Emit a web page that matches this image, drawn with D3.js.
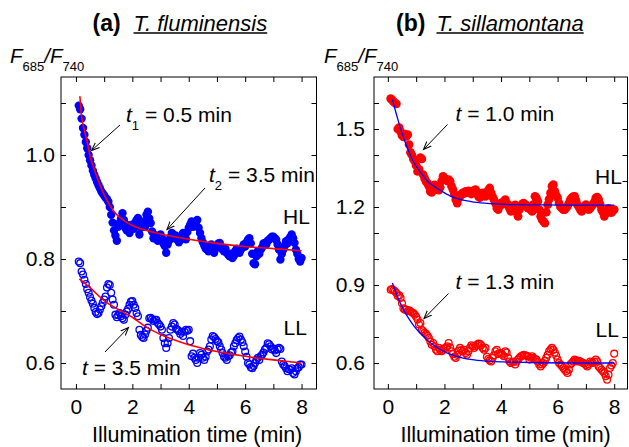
<!DOCTYPE html>
<html>
<head>
<meta charset="utf-8">
<script src="https://cdn.jsdelivr.net/npm/d3@7"></script>
<style>
body { margin: 0; background: #fff; }
text { font-family: "Liberation Sans", Arial, Helvetica, sans-serif; white-space: pre; }
</style>
</head>
<body>
<div id="chart"></div>
<script>
// sampling times (min), shared by all four series
const times = [
  0.10,0.15,0.20,0.25,0.30,0.35,0.40,0.45,0.50,0.55,0.60,0.65,0.70,0.75,0.80,0.85,0.90,0.95,
  1.00,1.05,1.10,1.15,1.20,1.25,1.30,1.35,1.40,1.45,1.50,1.55,1.60,1.65,1.70,1.75,1.80,1.85,1.90,1.95,
  2.00,2.05,2.10,2.15,2.20,2.25,2.30,2.35,2.40,2.45,2.50,2.55,2.60,2.65,2.70,2.75,2.80,2.85,2.90,2.95,
  3.00,3.05,3.10,3.15,3.20,3.25,3.30,3.35,3.40,3.45,3.50,3.55,3.60,3.65,3.70,3.75,3.80,3.85,3.90,3.95,
  4.00,4.05,4.10,4.15,4.20,4.25,4.30,4.35,4.40,4.45,4.50,4.55,4.60,4.65,4.70,4.75,4.80,4.85,4.90,4.95,
  5.00,5.05,5.10,5.15,5.20,5.25,5.30,5.35,5.40,5.45,5.50,5.55,5.60,5.65,5.70,5.75,5.80,5.85,5.90,5.95,
  6.00,6.05,6.10,6.15,6.20,6.25,6.30,6.35,6.40,6.45,6.50,6.55,6.60,6.65,6.70,6.75,6.80,6.85,6.90,6.95,
  7.00,7.05,7.10,7.15,7.20,7.25,7.30,7.35,7.40,7.45,7.50,7.55,7.60,7.65,7.70,7.75,7.80,7.85,7.90,7.95,
  8.00
]

// (a) T. fluminensis, high light
const hlA = [
  1.095,1.088,1.07,1.052,1.039,1.025,1.013,1.0,0.99,0.98,0.97,0.962,0.955,0.948,0.942,0.936,0.93,0.926,
  0.922,0.918,0.915,0.91,0.90,0.885,0.87,0.855,0.845,0.835,0.862,0.87,0.878,0.888,0.875,0.86,0.855,0.865,0.85,0.862,
  0.866,0.858,0.87,0.875,0.879,0.847,0.86,0.868,0.872,0.862,0.885,0.891,0.878,0.869,0.853,0.84,0.846,0.84,0.835,0.843,
  0.847,0.84,0.83,0.825,0.812,0.828,0.835,0.842,0.85,0.847,0.84,0.845,0.837,0.832,0.837,0.842,0.85,0.845,0.838,0.852,
  0.86,0.866,0.872,0.862,0.867,0.87,0.875,0.86,0.85,0.84,0.832,0.826,0.82,0.818,0.815,0.822,0.828,0.818,0.812,0.82,
  0.825,0.83,0.831,0.822,0.818,0.815,0.82,0.812,0.808,0.805,0.81,0.802,0.806,0.815,0.82,0.816,0.812,0.818,0.822,0.828,
  0.824,0.832,0.837,0.84,0.83,0.81,0.792,0.79,0.805,0.815,0.81,0.818,0.822,0.83,0.831,0.828,0.835,0.837,0.84,0.843,
  0.843,0.84,0.837,0.828,0.818,0.799,0.81,0.818,0.825,0.834,0.83,0.838,0.842,0.847,0.84,0.831,0.818,0.81,0.8,0.795,
  0.802
]
// (a) low light
const llA = [
  0.795,0.792,0.776,0.77,0.76,0.752,0.742,0.735,0.727,0.72,0.714,0.706,0.698,0.694,0.696,0.703,0.709,0.716,
  0.722,0.728,0.745,0.752,0.75,0.735,0.722,0.712,0.693,0.688,0.692,0.696,0.69,0.686,0.683,0.693,0.699,0.704,0.712,0.718,
  0.719,0.712,0.706,0.696,0.69,0.664,0.654,0.65,0.648,0.655,0.662,0.668,0.686,0.687,0.684,0.681,0.683,0.683,0.677,0.674,
  0.67,0.664,0.648,0.638,0.629,0.638,0.648,0.664,0.67,0.677,0.674,0.666,0.664,0.661,0.656,0.66,0.652,0.66,0.664,0.662,
  0.664,0.642,0.613,0.618,0.61,0.606,0.6,0.61,0.619,0.616,0.61,0.606,0.612,0.622,0.626,0.632,0.645,0.652,0.65,0.646,
  0.642,0.64,0.632,0.626,0.619,0.612,0.61,0.606,0.613,0.615,0.62,0.622,0.632,0.638,0.644,0.648,0.651,0.645,0.64,0.632,
  0.622,0.612,0.6,0.597,0.592,0.59,0.594,0.6,0.606,0.61,0.606,0.613,0.616,0.62,0.626,0.629,0.638,0.636,0.632,0.626,
  0.628,0.624,0.619,0.626,0.629,0.627,0.603,0.597,0.594,0.59,0.584,0.588,0.587,0.59,0.581,0.578,0.584,0.59,0.592,0.597,
  0.597
]
// (b) T. sillamontana, high light
const hlB = [
  1.617,1.612,1.605,1.6,1.597,1.5,1.505,1.49,1.475,1.47,1.48,1.472,1.478,1.44,1.41,1.40,1.385,1.376,
  1.36,1.337,1.345,1.39,1.385,1.324,1.31,1.298,1.292,1.28,1.26,1.256,1.275,1.285,1.28,1.27,1.265,1.275,1.3,1.318,
  1.31,1.305,1.3,1.305,1.299,1.28,1.267,1.25,1.228,1.215,1.234,1.24,1.25,1.254,1.252,1.26,1.256,1.262,1.254,1.25,
  1.26,1.264,1.267,1.255,1.241,1.236,1.245,1.254,1.248,1.241,1.255,1.265,1.273,1.254,1.24,1.228,1.215,1.196,1.19,1.205,
  1.215,1.21,1.222,1.228,1.215,1.209,1.195,1.183,1.19,1.203,1.208,1.18,1.164,1.19,1.203,1.212,1.215,1.21,1.205,1.196,
  1.2,1.19,1.183,1.21,1.241,1.235,1.222,1.19,1.164,1.151,1.145,1.138,1.18,1.209,1.23,1.254,1.28,1.286,1.26,1.245,
  1.235,1.215,1.2,1.196,1.19,1.19,1.197,1.203,1.215,1.228,1.235,1.24,1.241,1.225,1.209,1.2,1.19,1.183,1.19,1.2,
  1.209,1.2,1.19,1.195,1.203,1.21,1.22,1.235,1.238,1.228,1.21,1.19,1.18,1.164,1.175,1.19,1.195,1.183,1.178,1.185,
  1.19
]
// (b) low light
const llB = [
  0.882,0.884,0.88,0.876,0.869,0.858,0.86,0.85,0.83,0.81,0.805,0.806,0.8,0.803,0.799,0.794,0.792,0.786,
  0.778,0.767,0.748,0.754,0.728,0.722,0.716,0.712,0.705,0.696,0.683,0.67,0.677,0.664,0.651,0.645,0.658,0.651,0.645,0.65,
  0.656,0.66,0.664,0.677,0.66,0.645,0.635,0.624,0.619,0.632,0.648,0.658,0.65,0.645,0.651,0.638,0.632,0.645,0.658,0.668,
  0.664,0.658,0.664,0.67,0.675,0.674,0.668,0.658,0.651,0.658,0.624,0.615,0.61,0.606,0.619,0.63,0.645,0.651,0.635,0.638,
  0.636,0.632,0.626,0.645,0.64,0.62,0.606,0.6,0.604,0.606,0.594,0.605,0.613,0.62,0.626,0.628,0.632,0.63,0.628,0.626,
  0.613,0.62,0.626,0.619,0.616,0.613,0.605,0.594,0.587,0.594,0.6,0.608,0.62,0.632,0.645,0.652,0.658,0.651,0.64,0.628,
  0.613,0.6,0.594,0.588,0.581,0.574,0.568,0.562,0.574,0.594,0.6,0.606,0.613,0.61,0.606,0.608,0.606,0.603,0.6,0.598,
  0.592,0.587,0.594,0.606,0.602,0.6,0.606,0.613,0.606,0.587,0.581,0.574,0.568,0.562,0.549,0.536,0.555,0.581,0.59,0.6,
  0.636
]

// fitted curves
const fitHLA_t = [0.14, 0.2, 0.3, 0.4, 0.5, 0.7, 0.9, 1.15, 1.4, 1.75, 2.2, 3, 4, 5, 6, 7, 8]
const fitHLA_v = [1.113, 1.075, 1.047, 1.025, 0.998, 0.965, 0.936, 0.908, 0.888, 0.872, 0.86, 0.848, 0.838, 0.83, 0.824, 0.82, 0.816]
const fitLLA_t = [0.12, 0.5, 1, 1.5, 2, 2.5, 3, 3.5, 4, 4.5, 5, 5.5, 6, 6.5, 7, 7.5, 8]
const fitLLA_v = [0.762, 0.745, 0.72, 0.703, 0.688, 0.669, 0.655, 0.644, 0.635, 0.628, 0.622, 0.617, 0.613, 0.609, 0.606, 0.603, 0.6]
const fitHLB_t = [0.16, 0.34, 0.52, 0.69, 0.93, 1.17, 1.4, 1.64, 1.87, 2.23, 2.58, 3.05, 3.64, 4.46, 5.4, 8.0]
const fitHLB_v = [1.613, 1.542, 1.478, 1.427, 1.369, 1.331, 1.299, 1.279, 1.263, 1.241, 1.228, 1.219, 1.213, 1.209, 1.208, 1.207]
const fitLLB_t = [0.16, 0.34, 0.52, 0.69, 0.93, 1.17, 1.4, 1.64, 1.87, 2.23, 2.58, 3.05, 3.64, 4.46, 5.41, 6.58, 8.0]
const fitLLB_v = [0.908, 0.856, 0.812, 0.779, 0.741, 0.712, 0.687, 0.667, 0.651, 0.632, 0.621, 0.612, 0.606, 0.603, 0.601, 0.6, 0.6]

// ticks
const xTicks = [0, 1, 2, 3, 4, 5, 6, 7, 8]
const xTickLabels = [0, 2, 4, 6, 8]
const yTicksA = [0.6, 0.7, 0.8, 0.9, 1.0, 1.1]
const yTickLabelsA = [0.6, 0.8, 1.0]
const yTicksB = [0.6, 0.7, 0.8, 0.9, 1.0, 1.1, 1.2, 1.3, 1.4, 1.5, 1.6]
const yTickLabelsB = [0.6, 0.9, 1.2, 1.5]

const FONT = '"Liberation Sans", Arial, Helvetica, sans-serif'
const TOP = 77, BOTTOM = 389

var svg = d3.select("#chart")
	.append("svg")
	.attr("width", 629)
	.attr("height", 447)

svg.append("defs")
	.append("marker")
	.attr("id", "arrowhead")
	.attr("markerUnits", "userSpaceOnUse")
	.attr("markerWidth", 10)
	.attr("markerHeight", 8)
	.attr("refX", 8)
	.attr("refY", 4)
	.attr("orient", "auto")
	.append("path")
	.attr("d", "M0,0.8 L8,4 L0,7.2")
	.attr("fill", "none")
	.attr("stroke", "black")
	.attr("stroke-width", 1)

function drawPanel(p) {
	const xScale = d3.scaleLinear().domain(p.xDomain).range([p.left, p.right])
	const yScale = d3.scaleLinear().domain(p.yDomain).range([BOTTOM, TOP])
	const g = svg.append("g")

	const fmt = d3.format(".1f")

	// bottom axis with labels, ticks inward
	g.append("g")
		.attr("transform", `translate(0,${BOTTOM})`)
		.call(d3.axisBottom(xScale).tickValues(xTicks).tickSizeInner(-5).tickSizeOuter(0).tickPadding(10)
			.tickFormat(d => xTickLabels.includes(d) ? d : ""))
		.call(a => a.select(".domain").remove())
	// top mirror
	g.append("g")
		.attr("transform", `translate(0,${TOP})`)
		.call(d3.axisTop(xScale).tickValues(xTicks).tickSizeInner(-5).tickSizeOuter(0).tickFormat(""))
		.call(a => a.select(".domain").remove())
	// left axis
	g.append("g")
		.attr("transform", `translate(${p.left},0)`)
		.call(d3.axisLeft(yScale).tickValues(p.yTicks).tickSizeInner(-5).tickSizeOuter(0).tickPadding(p.pad)
			.tickFormat(d => p.yLabels.includes(d) ? fmt(d) : ""))
		.call(a => a.select(".domain").remove())
	// right mirror
	g.append("g")
		.attr("transform", `translate(${p.right},0)`)
		.call(d3.axisRight(yScale).tickValues(p.yTicks).tickSizeInner(-5).tickSizeOuter(0).tickFormat(""))
		.call(a => a.select(".domain").remove())

	g.selectAll(".tick text")
		.attr("font-family", FONT)
		.attr("font-size", 21)
		.attr("fill", "black")
	g.selectAll(".tick line")
		.attr("stroke", "black")
		.attr("stroke-width", 1)

	// frame
	g.append("rect")
		.attr("x", p.left)
		.attr("y", TOP)
		.attr("width", p.right - p.left)
		.attr("height", BOTTOM - TOP)
		.attr("fill", "none")
		.attr("stroke", "black")
		.attr("stroke-width", 1)

	// scatter: HL filled, LL open
	g.append("g")
		.selectAll("circle")
		.data(times.map((t, i) => ({t: t, v: p.hl[i]})))
		.enter()
		.append("circle")
		.attr("cx", d => xScale(d.t))
		.attr("cy", d => yScale(d.v))
		.attr("r", p.dotR)
		.attr("fill", p.dotColor)

	g.append("g")
		.selectAll("circle")
		.data(times.map((t, i) => ({t: t, v: p.ll[i]})))
		.enter()
		.append("circle")
		.attr("cx", d => xScale(d.t))
		.attr("cy", d => yScale(d.v))
		.attr("r", 3.4)
		.attr("fill", "none")
		.attr("stroke", p.dotColor)
		.attr("stroke-width", 1.3)

	// fitted lines on top
	const line = d3.line()
		.curve(d3.curveMonotoneX)
		.x(d => xScale(d[0]))
		.y(d => yScale(d[1]))

	p.fits.forEach(f => {
		g.append("path")
			.attr("d", line(f[0].map((t, i) => [t, f[1][i]])))
			.attr("fill", "none")
			.attr("stroke", p.lineColor)
			.attr("stroke-width", p.lineW)
	})

	// x axis title
	g.append("text")
		.attr("x", p.xTitleX)
		.attr("y", 442)
		.attr("font-size", 21.5)
		.text("Illumination time (min)")

	// y axis label F685/F740
	const yl = g.append("text")
		.attr("x", p.yLabelX)
		.attr("y", 63)
		.attr("font-size", 20.5)
	yl.append("tspan").attr("font-style", "italic").text("F")
	yl.append("tspan").attr("font-size", 13).attr("dy", 8).text("685")
	yl.append("tspan").attr("dy", -8).attr("font-style", "italic").text("/F")
	yl.append("tspan").attr("font-size", 13).attr("dy", 8).text("740")

	// panel title
	g.append("text")
		.attr("x", p.titleX)
		.attr("y", 31)
		.attr("font-size", 23)
		.attr("font-weight", "bold")
		.text(p.tag)
	const sp = g.append("text")
		.attr("x", p.speciesX)
		.attr("y", 31)
		.attr("font-size", 22)
		.attr("font-style", "italic")
		.text(p.species)
	const w = sp.node().getComputedTextLength()
	g.append("line")
		.attr("x1", p.speciesX)
		.attr("x2", p.speciesX + w)
		.attr("y1", 33)
		.attr("y2", 33)
		.attr("stroke", "black")
		.attr("stroke-width", 1.4)
}

function annot(x, y, sub, rest) {
	const t = svg.append("text")
		.attr("x", x)
		.attr("y", y)
		.attr("font-size", 21)
	t.append("tspan").attr("font-style", "italic").text("t")
	if (sub) {
		t.append("tspan").attr("font-size", 13).attr("dy", 8).text(sub)
		t.append("tspan").attr("dy", -8).text(rest)
	} else {
		t.append("tspan").text(rest)
	}
}

function arrow(x1, y1, x2, y2) {
	svg.append("line")
		.attr("x1", x1).attr("y1", y1)
		.attr("x2", x2).attr("y2", y2)
		.attr("stroke", "black")
		.attr("stroke-width", 1)
		.attr("marker-end", "url(#arrowhead)")
}

function label(x, y, s) {
	svg.append("text")
		.attr("x", x)
		.attr("y", y)
		.attr("font-size", 21)
		.text(s)
}

drawPanel({
	left: 61, right: 316.5,
	xDomain: [-0.53, 8.53], yDomain: [0.55, 1.15],
	yTicks: yTicksA, yLabels: yTickLabelsA, pad: 6,
	hl: hlA, ll: llA, dotColor: "#0000ff", dotR: 4.2,
	fits: [[fitHLA_t, fitHLA_v], [fitLLA_t, fitLLA_v]],
	lineColor: "#ff0000", lineW: 1.6,
	xTitleX: 92, yLabelX: 10,
	titleX: 92.5, tag: "(a)", speciesX: 133.5, species: "T. fluminensis"
})

drawPanel({
	left: 374, right: 627.5,
	xDomain: [-0.49, 8.47], yDomain: [0.5, 1.7],
	yTicks: yTicksB, yLabels: yTickLabelsB, pad: 9,
	hl: hlB, ll: llB, dotColor: "#ff0000", dotR: 4.4,
	fits: [[fitHLB_t, fitHLB_v], [fitLLB_t, fitLLB_v]],
	lineColor: "#0000ff", lineW: 1.3,
	xTitleX: 400.5, yLabelX: 324,
	titleX: 396, tag: "(b)", speciesX: 436.5, species: "T. sillamontana"
})

// annotations (a)
annot(126, 122, "1", " = 0.5 min")
arrow(120, 125, 91.5, 150.5)
annot(209, 182, "2", " = 3.5 min")
arrow(205, 188, 167, 229.5)
label(283, 224, "HL")
label(283.5, 335, "LL")
annot(82, 375, null, " = 3.5 min")
arrow(105, 352, 128.5, 327.5)

// annotations (b)
annot(455.5, 121, null, " = 1.0 min")
arrow(447.5, 124.5, 423.5, 149.5)
label(595, 184, "HL")
annot(455.5, 289, null, " = 1.3 min")
arrow(448.5, 293.5, 424, 318.5)
label(595.5, 337, "LL")
</script>
</body>
</html>
